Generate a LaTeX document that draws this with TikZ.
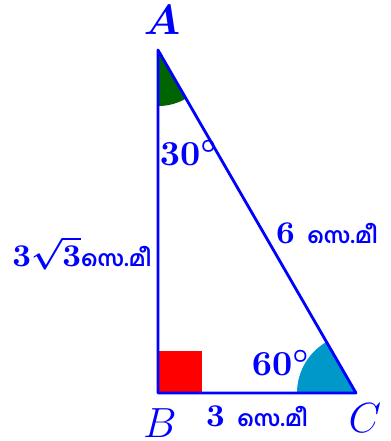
\documentclass[tikz,border=0pt]{standalone}
\usepackage{amsmath,amssymb}
\usepackage{fontspec}
\newfontfamily\malfont[Script=Malayalam,Scale=0.68]{Hind Kochi}
\usepackage{tikz}
\usetikzlibrary{positioning,calc}
\usepackage{xcolor}
\definecolor{darkgreen}{RGB}{0,100,0}
\definecolor{anglecyan}{RGB}{0,152,200}
\tikzset{lbl/.style={text=blue, font=\bfseries\boldmath, inner sep=1pt}}

\begin{document}
\begin{tikzpicture}[x=0.66cm,y=0.66cm]
\useasboundingbox (-1.58cm,-0.48cm) rectangle (2.33cm,3.93cm);
\coordinate (B) at (0,0);
\coordinate (C) at (3,0);
\coordinate (A) at (0,{3*sqrt(3)});
% right angle at B
\fill[red] (B) rectangle ++(0.44cm,0.42cm);
% angle at A
\fill[darkgreen] (A) -- ++(-90:0.56cm) arc[start angle=-90, end angle=-60, radius=0.56cm] -- cycle;
% angle at C
\fill[anglecyan] (C) -- ++(180:0.59cm) arc[start angle=180, end angle=120, radius=0.59cm] -- cycle;
% sides
\draw[blue, thick, line join=round] (A) -- (B) -- (C) -- cycle;
% vertex labels
\node[text=blue, font=\large\boldmath, inner sep=0pt] (lA) at ($(A)+(0.04cm,0.30cm)$) {$A$};
\node[text=blue, font=\large, inner sep=0pt] (lB) at ($(B)+(0.02cm,-0.30cm)$) {$B$};
\node[text=blue, font=\large, inner sep=0pt] (lC) at ($(C)+(0.09cm,-0.25cm)$) {$C$};
% angles
\node[lbl] (angA) at ($(A)+(0.31cm,-1.03cm)$) {$30^\circ$};
\node[lbl] (angC) at ($(C)+(-0.75cm,0.30cm)$) {$60^\circ$};
% side lengths
\node[lbl, font=\small\bfseries\boldmath] (sideBC) at ($(B)+(0.99cm,-0.23cm)$) {3 {\malfont സെ.മീ}};
\node[lbl, font=\small\bfseries\boldmath] (sideAC) at ($(C)+(-0.29cm,1.60cm)$) {6 {\malfont സെ.മീ}};
\node[lbl, font=\small\bfseries\boldmath] (sideAB) at ($(B)+(-0.76cm,1.40cm)$) {$3\sqrt{3}${\malfont സെ.മീ}};
\end{tikzpicture}
\end{document}
